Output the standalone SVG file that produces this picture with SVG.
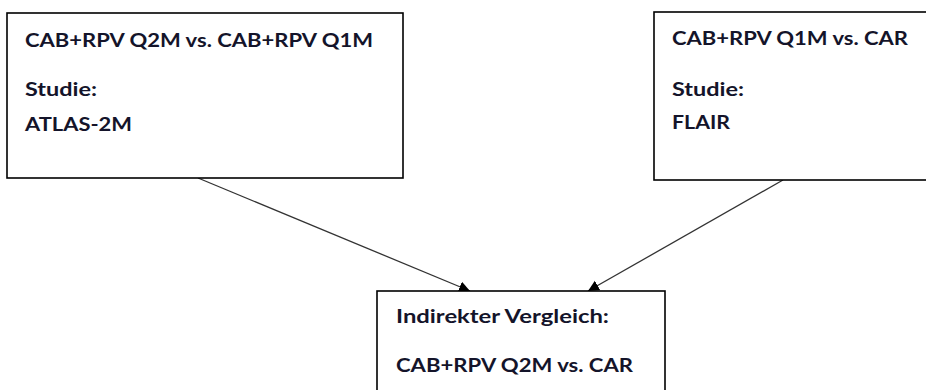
<svg xmlns="http://www.w3.org/2000/svg" width="926" height="390" viewBox="0 0 926 390">
<defs>
<style>
.box{fill:#fff;stroke:#000;stroke-width:1.6}
.t{font-family:Lato,"Liberation Sans",sans-serif;font-weight:bold;font-size:19px;fill:#14142a}
.c{stroke:#333;stroke-width:1.3;fill:none;marker-end:url(#ah)}
</style>
<marker id="ah" markerWidth="12" markerHeight="12" refX="11" refY="5.5" orient="auto" markerUnits="userSpaceOnUse">
<path d="M0,0 L11,5.5 L0,11 Z" fill="#000"/>
</marker>
</defs>
<rect width="926" height="390" fill="#fff"/>
<g id="connectors">
<line class="c" x1="198" y1="178" x2="470" y2="291"/>
<line class="c" x1="783" y1="180" x2="588" y2="291"/>
</g>
<g id="atlas">
<rect class="box" x="7" y="13" width="396" height="165"/>
<text class="t" x="25" y="47" textLength="348" lengthAdjust="spacingAndGlyphs">CAB+RPV Q2M vs. CAB+RPV Q1M</text>
<text class="t" x="25" y="96" textLength="72" lengthAdjust="spacingAndGlyphs">Studie:</text>
<text class="t" x="25" y="131" textLength="107" lengthAdjust="spacingAndGlyphs">ATLAS-2M</text>
</g>
<g id="flair">
<rect class="box" x="654" y="12" width="290" height="168"/>
<text class="t" x="672" y="45" textLength="236" lengthAdjust="spacingAndGlyphs">CAB+RPV Q1M vs. CAR</text>
<text class="t" x="672" y="96" textLength="72" lengthAdjust="spacingAndGlyphs">Studie:</text>
<text class="t" x="672" y="129" textLength="58" lengthAdjust="spacingAndGlyphs">FLAIR</text>
</g>
<g id="indirect">
<rect class="box" x="377" y="291" width="288" height="115"/>
<text class="t" x="396" y="323" textLength="213" lengthAdjust="spacingAndGlyphs">Indirekter Vergleich:</text>
<text class="t" x="396" y="372" textLength="237" lengthAdjust="spacingAndGlyphs">CAB+RPV Q2M vs. CAR</text>
</g>
</svg>
